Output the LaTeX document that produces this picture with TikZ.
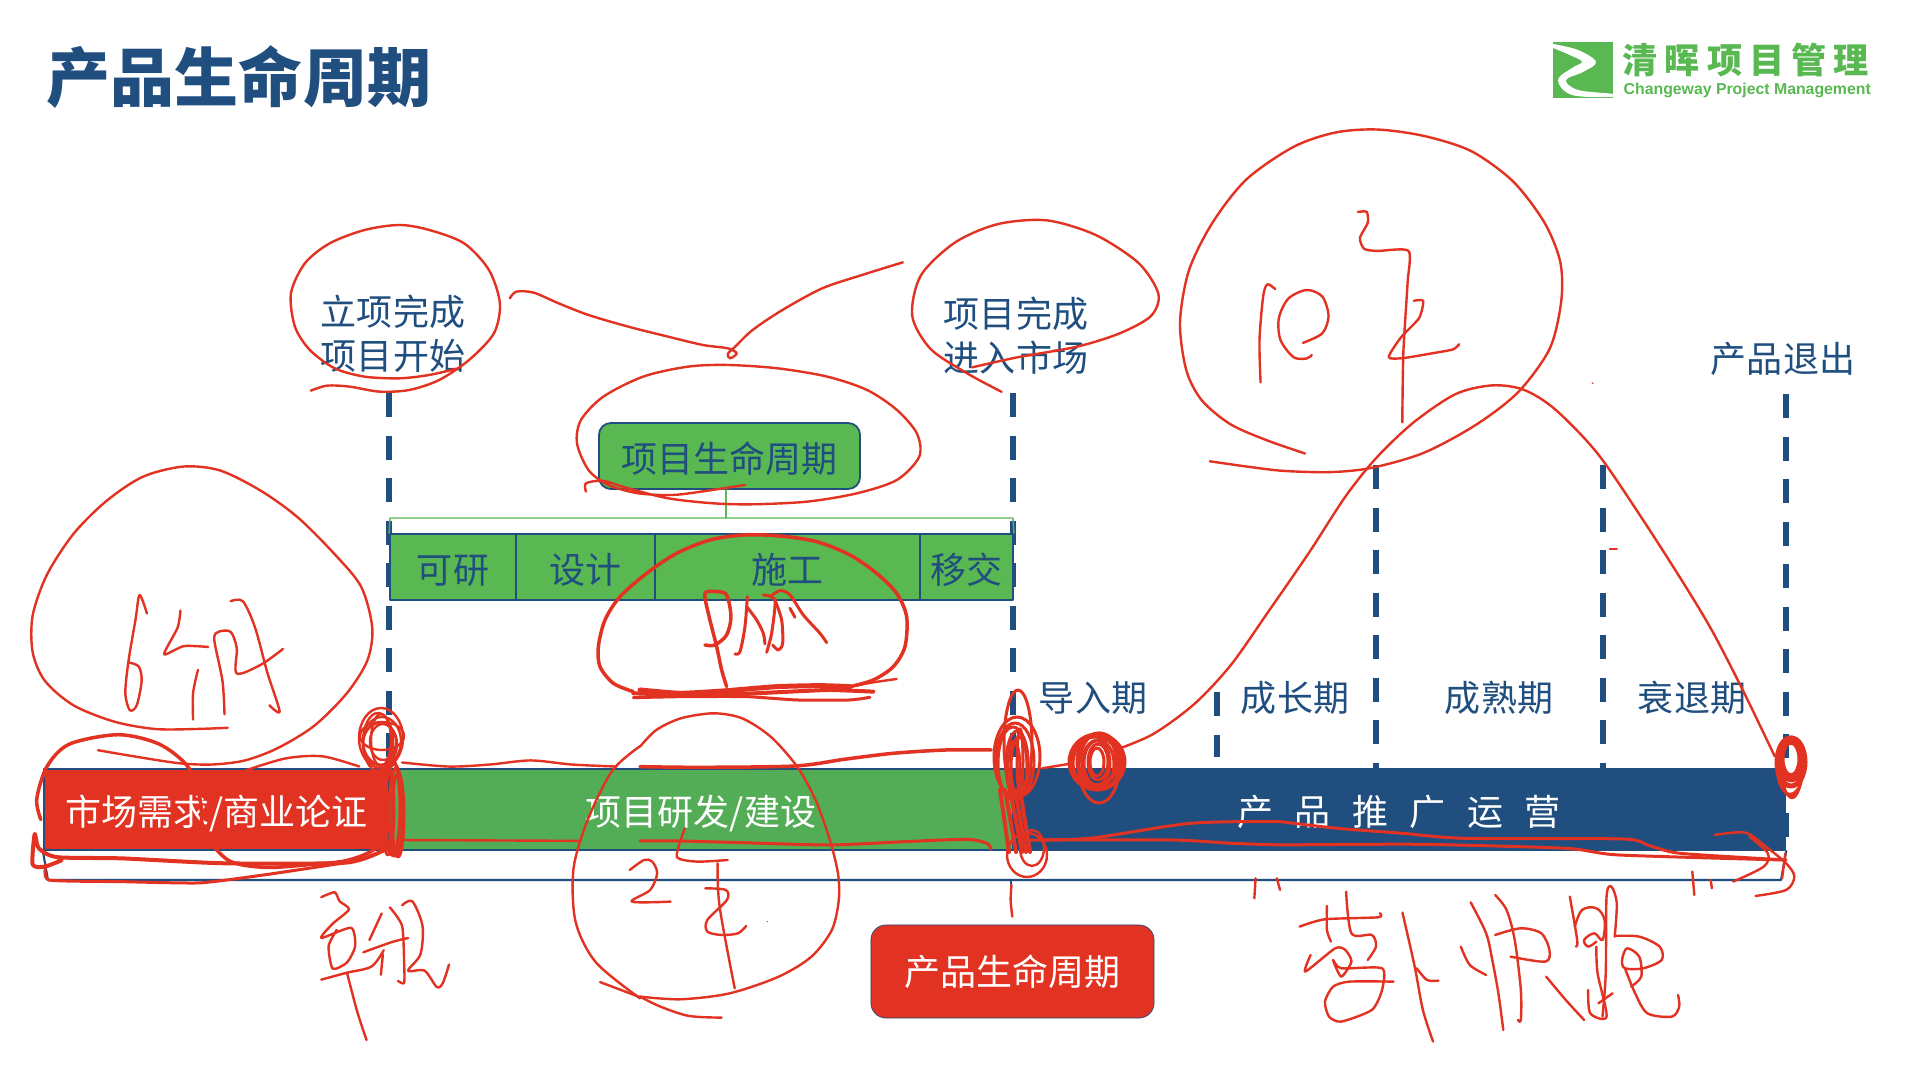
\documentclass[tikz,border=0pt]{standalone}
\usepackage{fontspec}
\setmainfont{Noto Sans CJK SC}
\newfontfamily\logofont[LetterSpace=20]{Noto Sans CJK SC}
\newfontfamily\latinfont{Liberation Sans}
\definecolor{mainblue}{HTML}{1F4E7F}
\definecolor{leafgreen}{HTML}{59B851}
\definecolor{inkred}{HTML}{E23222}
\tikzset{
	lab/.style={font=\fontsize{10.24}{12.5}\selectfont, text=mainblue, inner sep=0pt, align=center},
	barbox/.style={draw=mainblue, line width=0.6pt, minimum height=0.81cm, inner sep=0pt, text height=0.37cm, text depth=0.045cm, font=\fontsize{10.24}{12.5}\selectfont, text=white},
	cellbox/.style={draw=mainblue, line width=0.5pt, fill=leafgreen, minimum height=0.66cm, inner sep=0pt, text height=0.37cm, text depth=0.045cm, font=\fontsize{10.24}{12.5}\selectfont, text=mainblue},
	dashline/.style={draw=mainblue, line width=0.06cm, line cap=butt, dash pattern=on 0.24cm off 0.185cm},
	ink/.style={draw=inkred, line width=0.024cm},
	viewTop/.style={shift={(280,200)}, xscale=0.4975, yscale=0.3333},
	viewBig/.style={shift={(1100,110)}, xscale=0.523, yscale=0.4337},
	viewLeft/.style={shift={(0,440)}, scale=0.4082},
	viewMid/.style={shift={(640,640)}, xscale=0.4082, yscale=0.3333},
	viewRight/.style={shift={(1280,640)}, xscale=0.4082, yscale=0.3333},
	viewSmall/.style={shift={(590,520)}, scale=0.3333},
	viewSheet/.style={scale=1.2245}
}
\begin{document}
\begin{tikzpicture}[x=0.01cm, y=-0.01cm, line join=round, line cap=round]
	\fill[white] (0,0) rectangle (1920,1080);
	\useasboundingbox (0,0) rectangle (1920,1080);
	\path
	(389,393) coordinate (D_1) (389,769) coordinate (D_1e)
	(1013,393) coordinate (D_2) (1013,769) coordinate (D_2e)
	(1217,692) coordinate (D_3) (1217,757) coordinate (D_3e)
	(1376,465) coordinate (D_4) (1376,769) coordinate (D_4e)
	(1603,465) coordinate (D_5) (1603,769) coordinate (D_5e)
	(1786,394) coordinate (D_6) (1786,769) coordinate (D_6e)
	;
	\foreach \i in {1,...,6} \draw[dashline] (D_\i) -- (D_\i e);
	
	\node[lab, font=\fontsize{18.2}{22}\selectfont\bfseries] (title) at (239,77) {产品生命周期};
	
	\node[fill=leafgreen, minimum width=0.6cm, minimum height=0.56cm, inner sep=0pt] (logomark) at (1583,70) {};
	\fill[white] plot[smooth, tension=.6] coordinates {(1553,44) (1578,50) (1596,62) (1583,72) (1566,80) (1578,90) (1613,94) (1613,97) (1572,95) (1558,80) (1572,68) (1582,62) (1572,56) (1553,48)} -- cycle;
	\node[lab, anchor=west, text=leafgreen, font=\logofont\fontsize{10}{12}\selectfont\bfseries] (logocn) at (1622,60) {清晖项目管理};
	\node[lab, anchor=west, text=leafgreen, font=\latinfont\fontsize{4.5}{6}\selectfont\bfseries] (logoen) at (1623,90) {Changeway Project Management};
	
	\node[lab] (start) at (393,334) {立项完成\\项目开始};
	\node[lab] (finish) at (1016,336) {项目完成\\进入市场};
	\node[lab] (leave) at (1783,359) {产品退出};
	\node[lab] (intro) at (1093,698) {导入期};
	\node[lab] (grow) at (1295,698) {成长期};
	\node[lab] (mature) at (1499,698) {成熟期};
	\node[lab] (decline) at (1692,698) {衰退期};
	
	\node[cellbox, minimum width=2.61cm, rounded corners=0.12cm] (projbox) at (729.5,456) {项目生命周期};
	\node[cellbox, minimum width=1.26cm] (c_1) at (453,567) {可研};
	\node[cellbox, minimum width=1.39cm] (c_2) at (585.5,567) {设计};
	\node[cellbox, minimum width=2.65cm] (c_3) at (787.5,567) {施工};
	\node[cellbox, minimum width=0.93cm] (c_4) at (966.5,567) {移交};
	
	\path
	(390,518) coordinate (T_1) (1013,518) coordinate (T_2)
	;
	\draw[leafgreen, line width=0.4pt] (c_1.north west) -- (T_1) -- (T_2) -- (c_4.north east);
	\draw[leafgreen, line width=0.4pt] ([xshift=-0.035cm]projbox.south) -- ([xshift=-0.035cm]projbox.south |- T_1);
	
	\node[barbox, fill=inkred, minimum width=3.45cm] (need) at (216.5,809.5) {市场需求/商业论证};
	\node[barbox, fill=leafgreen!90!mainblue, minimum width=6.24cm] (build) at (701,809.5) {项目研发/建设};
	\node[barbox, fill=mainblue, minimum width=7.72cm] (market) at (1399,809.5) {\spaceskip=0.215cm\relax 产 品 推 广 运 营};
	\path (1786,813) coordinate (D_7) (1786,838) coordinate (D_7e);
	\draw[dashline] (D_7) -- (D_7e);
	
	\node[fill=inkred, draw=mainblue, line width=0.2pt, rounded corners=0.15cm, minimum width=2.83cm, minimum height=0.93cm, inner sep=0pt, text=white, font=\fontsize{10.24}{12.5}\selectfont] (lifebox) at (1012.5,971.5) {产品生命周期};
	
	\path
	(48,880) coordinate (B_1) (1781,880) coordinate (B_2) (1011,880) coordinate (B_3) (1011,890) coordinate (B_4)
	;
	\draw[mainblue, line width=0.6pt] (need.south west) -- (B_1) -- (B_2) -- (market.south east);
	\draw[mainblue, line width=0.6pt] (B_3) -- (B_4);
	
	\begin{scope}[viewTop]
		\draw[ink] plot[smooth] coordinates {(62,572) (95,557) (140,560) (200,575) (260,570) (320,540) (380,480) (430,400) (442,310) (420,210) (370,130) (300,90) (240,75) (170,90) (100,130) (50,190) (22,280) (30,380) (60,450) (110,505) (170,530) (240,535) (300,525) (358,505)};
		\draw[ink] plot[smooth] coordinates {(462,295) (475,275) (510,278) (560,310) (620,345) (700,380) (780,410) (850,435) (900,445) (918,460) (905,475) (900,462) (915,440) (950,390) (1010,330) (1090,265) (1170,225) (1252,187)};
		\draw[ink] plot[smooth] coordinates {(615,875) (615,850) (650,843) (700,865) (780,895) (870,910) (950,913) (1060,905) (1160,880) (1240,840) (1285,770) (1280,700) (1240,630) (1180,570) (1100,530) (1000,505) (900,495) (820,500) (730,530) (650,590) (605,660) (597,730) (620,810) (660,855) (720,880) (790,885) (860,872) (935,855)};
	\end{scope}
	\begin{scope}[viewSheet]
		\draw[ink] plot[smooth] coordinates {(818,320) (790,305) (760,285) (745,258) (752,225) (780,198) (815,183) (855,180) (895,192) (930,215) (946,240) (940,258) (915,272) (880,283) (830,292) (794,300)};
	\end{scope}
	\begin{scope}[viewBig]
		\draw[ink] plot[smooth] coordinates {(392,792) (320,762) (250,725) (195,670) (165,600) (153,490) (170,370) (215,260) (280,160) (370,85) (450,52) (530,45) (620,60) (710,95) (790,165) (850,260) (880,350) (882,440) (860,550) (800,650) (720,725) (620,790) (520,825) (440,835) (350,832) (280,822) (210,810)};
		\draw[ink] plot[smooth] coordinates {(335,413) (320,402) (312,430) (305,530) (307,628)};
		\draw[ink] plot[smooth] coordinates {(405,565) (395,573) (370,570) (345,530) (342,480) (360,435) (395,415) (425,430) (437,475) (425,515) (388,537)};
		\draw[ink] plot[smooth, tension=.4] coordinates {(493,235) (510,235) (512,260) (497,295) (505,320) (530,325) (590,325) (588,400) (580,560) (578,720)};
		\draw[ink] plot[smooth, tension=.4] coordinates {(600,440) (618,440) (610,480) (575,525) (552,570) (580,572) (640,560) (675,552) (687,540)};
		\draw[ink] plot[smooth] coordinates {(20,1480) (100,1440) (180,1370) (250,1280) (320,1160) (400,1020) (470,890) (530,800) (600,720) (680,655) (750,635) (810,645) (870,690) (950,790) (1030,930) (1110,1080) (1170,1200) (1230,1340) (1290,1490)};
		\draw[ink] (975,1012) -- (988,1012);
		\fill[inkred] (942,630) circle (2);
	\end{scope}
	\begin{scope}[viewLeft]
		\draw[ink] plot[smooth] coordinates {(558,705) (480,708) (380,708) (280,690) (180,650) (110,590) (80,520) (80,430) (115,330) (180,230) (260,150) (350,90) (450,65) (540,75) (640,125) (730,190) (820,280) (885,360) (912,460) (900,540) (850,620) (770,700) (680,755) (600,785) (520,795) (440,792) (340,777) (240,760)};
		\draw[ink] plot[smooth, tension=.5] coordinates {(360,425) (342,380) (332,440) (315,540) (307,620) (318,662) (335,650) (347,590) (340,555) (315,545)};
		\draw[ink] plot[smooth, tension=.4] coordinates {(442,418) (435,460) (402,525) (450,505) (510,507)};
		\draw[ink] plot[smooth] coordinates {(485,563) (473,620) (473,685)};
		\draw[ink] plot[smooth, tension=.5] coordinates {(550,672) (545,590) (525,490) (535,470) (565,470) (580,510) (580,572) (640,550) (693,512)};
		\draw[ink] plot[smooth, tension=.5] coordinates {(565,395) (595,395) (625,460) (655,570) (685,665) (660,650)};
		\draw[ink, line width=0.035cm] plot[smooth] coordinates {(100,930) (90,880) (115,800) (170,745) (290,722) (390,745) (460,800) (490,880) (500,960) (560,1030) (650,1047) (760,1040) (850,1030) (920,1000) (945,940)};
		\draw[ink] plot[smooth] coordinates {(600,810) (700,780) (790,775) (880,800)};
		\draw[ink, line width=0.04cm] plot[smooth, tension=.4] coordinates {(950,1000) (850,1035) (550,1037) (300,1025) (140,1022) (95,1000) (85,965) (80,1040) (110,1045) (150,1030)};
		\draw[ink, line width=0.03cm] plot[smooth, tension=.3] coordinates {(112,1040) (120,1078) (300,1082) (490,1085) (650,1065) (850,1035)};
		\draw[ink] plot[smooth, tension=.4] coordinates {(787,1120) (820,1108) (832,1130) (855,1150) (815,1185) (787,1220) (860,1195) (870,1240) (850,1280) (815,1295) (805,1240) (825,1200)};
		\draw[ink] plot[smooth] coordinates {(787,1322) (850,1305) (910,1290) (940,1250)};
		\draw[ink] plot[smooth] coordinates {(850,1305) (875,1400) (898,1470)};
		\draw[ink] (935,1160) -- (905,1225);
		\draw[ink] plot[smooth] coordinates {(890,1255) (960,1230) (1000,1220)};
		\draw[ink] (938,1260) -- (933,1310);
		\draw[ink] plot[smooth, tension=.4] coordinates {(955,1145) (985,1190) (990,1280) (990,1330) (975,1325)};
		\draw[ink] plot[smooth, tension=.5] coordinates {(985,1140) (1010,1130) (1035,1190) (1030,1260) (1000,1300) (1040,1300) (1070,1340) (1085,1330) (1100,1285)};
		\draw[ink] plot[smooth] coordinates {(1568,750) (1500,810) (1440,930) (1405,1050) (1410,1180) (1460,1280) (1568,1368)};
		\draw[ink] (1470,1328) -- (1568,1365);
		\draw[ink] plot[smooth] coordinates {(985,790) (1100,800) (1200,795) (1300,785) (1400,795) (1510,800)};
		\draw[ink] (990,980) -- (1420,982);
	\end{scope}
	\begin{scope}[viewMid]
		\draw[ink] plot[smooth] coordinates {(0,1070) (100,1078) (220,1060) (340,1010) (420,950) (470,870) (487,780) (485,700) (465,600) (430,480) (385,380) (320,290) (250,235) (180,220) (100,235) (40,270) (0,320)};
		\draw[ink] plot[smooth] coordinates {(0,1070) (50,1100) (120,1128) (200,1133)};
		\draw[ink, line width=0.035cm] plot[smooth] coordinates {(0,380) (150,382) (380,378) (500,358) (620,340) (750,330) (860,330)};
		\draw[ink] (985,385) -- (1060,370);
		\draw[ink, line width=0.03cm] plot[smooth, tension=.4] coordinates {(0,603) (100,603) (300,610) (470,615) (650,605) (800,598) (850,610) (860,628)};
		\draw[ink, line width=0.03cm] plot[smooth] coordinates {(940,600) (1100,595) (1350,550) (1568,545)};
		\draw[ink, line width=0.03cm] plot[smooth] coordinates {(990,600) (1300,600) (1450,610) (1568,615)};
		\draw[ink] plot[smooth, tension=.4] coordinates {(110,565) (90,650) (140,665) (215,660)};
		\draw[ink] plot[smooth] coordinates {(190,670) (195,800) (232,1045)};
		\draw[ink] plot[smooth, tension=.5] coordinates {(160,745) (210,750) (213,780) (165,840) (165,875) (200,885) (240,880) (260,858)};
		\draw[ink] plot[smooth, tension=.5] coordinates {(-25,690) (10,660) (30,665) (42,700) (25,750) (-20,785) (75,785)};
		\fill[inkred] (312,845) circle (2);
		\draw[ink] plot[smooth] coordinates {(910,735) (908,780) (912,830)};
		\draw[ink] (1508,715) -- (1505,775);
		\draw[ink] (1560,715) -- (1568,750);
	\end{scope}
	\begin{scope}[viewSmall]
		\draw[ink, line width=0.035cm] plot[smooth] coordinates {(130,515) (70,490) (30,440) (25,380) (45,300) (90,230) (170,160) (260,100) (360,60) (460,45) (570,48) (680,65) (780,105) (860,160) (920,220) (950,290) (945,380) (910,440) (850,480) (780,500)};
		\draw[ink, line width=0.05cm] plot[smooth, tension=.3] coordinates {(780,500) (690,497) (560,500) (400,513) (270,520) (150,510)};
		\draw[ink, line width=0.04cm] plot[smooth, tension=.3] coordinates {(130,520) (280,525) (450,522) (600,515) (720,510) (850,515)};
		\draw[ink, line width=0.03cm] plot[smooth, tension=.3] coordinates {(130,533) (280,530) (470,530) (620,540) (780,540) (840,532)};
		\draw[ink] (780,500) -- (850,487) -- (920,477);
		\draw[ink, line width=0.035cm] plot[smooth, tension=.5] coordinates {(345,375) (375,375) (410,345) (423,290) (410,225) (380,215) (345,220) (355,280) (380,380) (395,450) (410,500)};
		\draw[ink, line width=0.03cm] plot[smooth, tension=.5] coordinates {(435,402) (450,395) (465,320) (472,230)};
		\draw[ink, line width=0.03cm] plot[smooth, tension=.5] coordinates {(472,262) (500,300) (520,340) (525,372)};
		\draw[ink, line width=0.03cm] plot[smooth, tension=.4] coordinates {(530,397) (545,340) (555,240) (520,225)};
		\draw[ink, line width=0.03cm] plot[smooth, tension=.5] coordinates {(555,240) (575,300) (578,370) (565,390) (548,375)};
		\draw[ink, line width=0.03cm] plot[smooth, tension=.5] coordinates {(540,230) (570,212) (600,225) (640,285) (690,340) (710,368)};
		\draw[ink, line width=0.03cm] (600,265) -- (615,292);
	\end{scope}
	\begin{scope}[viewRight]
		\draw[ink, line width=0.03cm] plot[smooth, tension=.4] coordinates {(0,545) (140,565) (300,580) (450,595) (840,597) (900,615) (980,640) (1240,660)};
		\draw[ink, line width=0.03cm] plot[smooth, tension=.4] coordinates {(0,615) (340,613) (700,625) (830,645) (1230,660)};
		\draw[ink] plot[smooth, tension=.5] coordinates {(1065,585) (1140,578) (1190,620) (1240,670) (1260,710) (1240,750) (1165,768)};
		\draw[ink] plot[smooth, tension=.5] coordinates {(1150,590) (1195,640) (1185,680) (1110,725)};
		\draw[ink] (1238,640) -- (1230,715);
		\draw[ink] (1010,695) -- (1015,765);
		\draw[ink] (1055,720) -- (1058,745);
		\draw[ink] plot[smooth, tension=.4] coordinates {(48,860) (110,838) (240,832) (245,820)};
		\draw[ink] plot[smooth] coordinates {(115,798) (115,870) (125,905)};
		\draw[ink] plot[smooth, tension=.5] coordinates {(162,755) (175,880) (225,885) (235,920) (215,960)};
		\draw[ink] plot[smooth, tension=.4] coordinates {(75,945) (62,995) (135,925) (160,930) (175,965) (150,1010) (130,960) (150,985) (250,985) (250,1050) (225,1110) (150,1145) (120,1130) (110,1085) (130,1040) (170,1025) (278,1025)};
		\draw[ink] plot[smooth] coordinates {(300,818) (330,980) (350,1110) (375,1205)};
		\draw[ink] plot[smooth] coordinates {(335,985) (360,1020) (388,1022)};
		\draw[ink] plot[smooth] coordinates {(467,787) (505,880) (520,960) (535,1060) (547,1170)};
		\draw[ink] plot[smooth] coordinates {(443,920) (465,975) (505,1005)};
		\draw[ink] plot[smooth, tension=.5] coordinates {(527,765) (555,810) (575,900) (590,1050) (590,1140) (583,1140)};
		\draw[ink] plot[smooth, tension=.5] coordinates {(527,885) (590,865) (640,880) (660,930) (650,965) (565,950)};
		\draw[ink] plot[smooth] coordinates {(652,1010) (700,1080) (745,1140)};
		\draw[ink] plot[smooth] coordinates {(710,770) (728,900) (725,920)};
		\draw[ink] plot[smooth, tension=.6] coordinates {(722,860) (740,810) (775,805) (795,840) (790,900) (770,880) (745,900) (755,920) (775,905)};
		\draw[ink] plot[smooth, tension=.5] coordinates {(775,920) (778,1000) (800,1130) (760,1120) (755,1050)};
		\draw[ink] plot[smooth, tension=.5] coordinates {(820,890) (825,790) (812,740) (800,770) (798,1000) (790,1130)};
		\draw[ink] (780,1090) -- (815,1060);
		\draw[ink] plot[smooth, tension=.5] coordinates {(820,888) (880,890) (930,920) (935,960) (890,985) (845,985) (838,960) (850,925) (880,950) (885,1010) (860,1040)};
		\draw[ink] plot[smooth, tension=.5] coordinates {(845,985) (870,1060) (900,1120) (960,1130) (978,1100) (975,1065)};
	\end{scope}
	
	\foreach \dx/\dy/\rx/\ry in {0/0/22/30, 1/3/19/24, -1/6/17/21, 2/4/13/18, 0/2/10/26, 1/-2/22/14, -3/4/15/29}
		\draw[ink] ({381+\dx},{738+\dy}) ellipse [x radius=\rx, y radius=\ry];
	\foreach \dx/\dy/\rx/\ry in {0/0/9/46, 2/2/7/44, -2/-3/8/48, 4/5/6/42, -6/0/6/45}
		\draw[ink, line width=0.03cm] ({394+\dx},{810+\dy}) ellipse [x radius=\rx, y radius=\ry];
	\fill[inkred] (376,770) rectangle (386,850);
	
	\foreach \dx/\dy/\rx/\ry in {3/-14/14/53, 2/0/23/40, 0/4/19/38, -2/6/15/36, 2/8/11/34, 4/10/8/30, -1/12/6/28, 5/4/3/32}
		\draw[ink, line width=0.03cm] ({1015+\dx},{757+\dy}) ellipse [x radius=\rx, y radius=\ry];
	\foreach \a/\b in {0/0, 5/2, 10/3, 15/2, 20/1}
		\draw[ink, line width=0.04cm] ({1000+\a},790) -- ({1009+\a+\b},852);
	\draw[ink] (1027,855) ellipse [x radius=20, y radius=22];
	\draw[ink] (1032,848) ellipse [x radius=12, y radius=18];
	
	\foreach \dx/\dy/\rx/\ry in {0/0/28/28, 1/1/25/27, 2/-1/22/28, 0/-2/19/26, 1/2/16/24, 0/1/13/22, 1/0/10/18, 0/0/7/14, 2/6/20/35, -2/-1/24/24}
		\draw[ink, line width=0.03cm] ({1097+\dx},{762+\dy}) ellipse [x radius=\rx, y radius=\ry];
	
	\draw[ink, line width=0.09cm] (1791,759) ellipse [x radius=11, y radius=19];
	\draw[ink, line width=0.05cm] (1791,762) ellipse [x radius=14, y radius=24];
	\foreach \dx/\rx/\ry in {0/12/28, 1/10/30, -1/13/26}
		\draw[ink] ({1791+\dx},768) ellipse [x radius=\rx, y radius=\ry];
\end{tikzpicture}
\end{document}
